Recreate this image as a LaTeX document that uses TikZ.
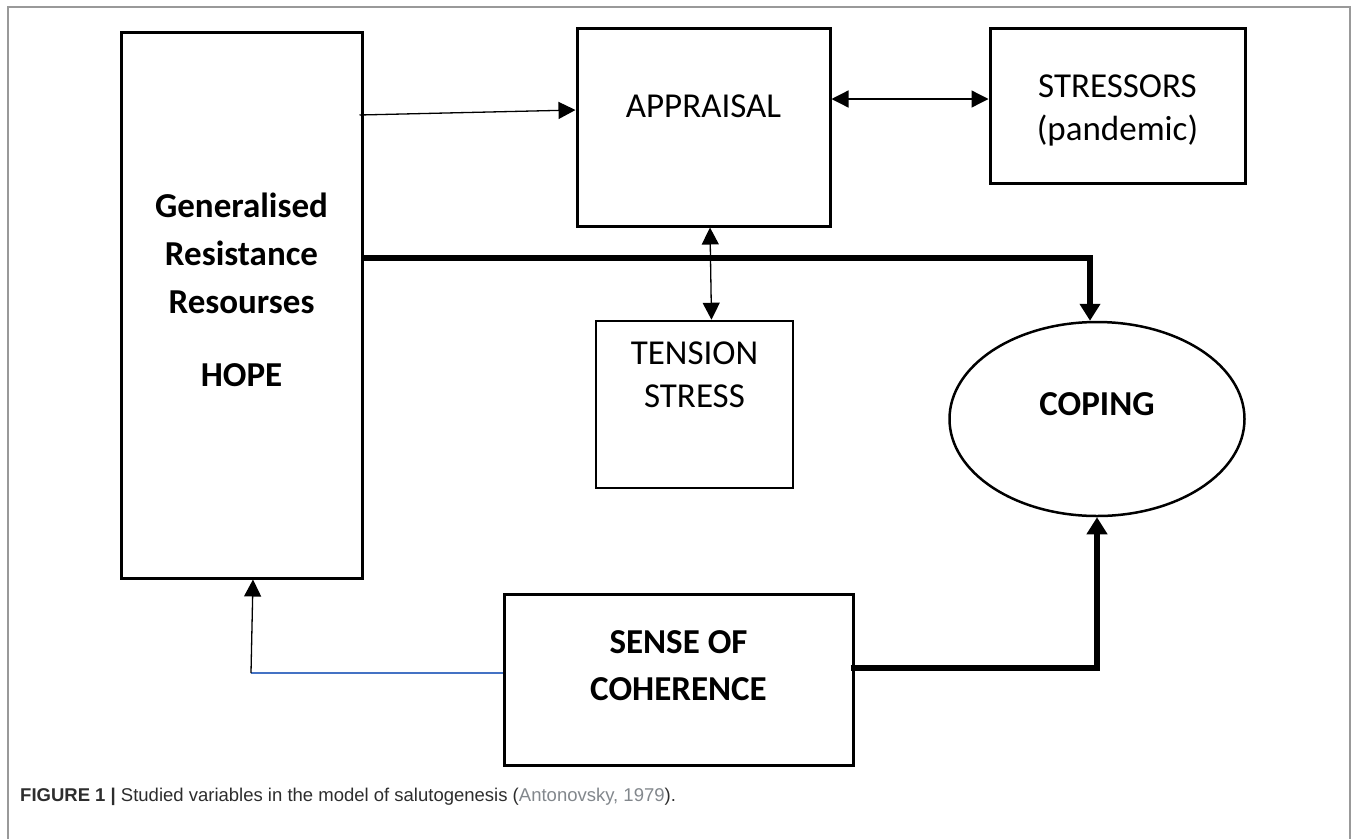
\documentclass[tikz,border=0pt]{standalone}
\usepackage{fontspec}
\setmainfont{Carlito}
\newfontfamily\capfont{Liberation Sans}
\usetikzlibrary{arrows.meta,shapes.geometric}
\definecolor{wordblue}{RGB}{68,114,196}
\definecolor{capgray}{RGB}{45,45,45}
\definecolor{citegray}{RGB}{130,135,140}
\begin{document}
\begin{tikzpicture}[x=1pt,y=-1pt,
		tri/.tip={Triangle[length=17pt,width=17pt]},
		bigtri/.tip={Triangle[length=17pt,width=20pt]},
		box/.style={draw,rectangle,line width=3pt,inner sep=0pt,align=center,font=\fontsize{35}{43}\selectfont},
		boldbox/.style={box,font=\fontsize{35}{48}\selectfont\bfseries},
		thinarrow/.style={line width=1.3pt,-tri},
		thinboth/.style={line width=1.3pt,tri-tri},
		thickarrow/.style={line width=6pt,-bigtri}
	]
		\useasboundingbox (0,0) rectangle (1358,839);
		\draw [line width=1.5pt,gray!80] (8,839)--(8,7)--(1350,7)--(1350,839);
		\node [boldbox,minimum width=241pt,minimum height=546pt,text height=162pt,text depth=0pt] (grr) at (241.5,305)
			{Generalised\\Resistance\\Resourses\\[25pt]HOPE};
		\node [box,minimum width=253pt,minimum height=198pt,text height=22.5pt,text depth=42.5pt] (appr) at (703.5,127) {APPRAISAL};
		\node [box,minimum width=255pt,minimum height=155pt,text height=69pt,text depth=0pt] (stress) at (1117.5,105.5) {STRESSORS\\(pandemic)};
		\node [box,line width=2.5pt,minimum width=197pt,minimum height=167pt,text height=5pt,text depth=0pt] (tension) at (694.5,404.5) {TENSION\\STRESS};
		\node [box,ellipse,line width=2.5pt,minimum width=295pt,minimum height=194pt,font=\fontsize{35}{43}\selectfont\bfseries,text height=22.5pt,text depth=30.5pt] (coping) at (1097,419) {COPING};
		\node [boldbox,font=\fontsize{35}{47}\selectfont\bfseries,minimum width=349pt,minimum height=171pt,text height=41pt,text depth=0pt] (soc) at (678.5,679.5) {SENSE OF\\COHERENCE};
		\coordinate (bend) at (251,673);
		\draw [thinarrow] ([xshift=-4pt,yshift=190pt]grr.east)--([yshift=17pt]appr.west);
		\draw [thinboth] ([yshift=28pt]appr.east)--([yshift=6.5pt]stress.west);
		\draw [thinboth] ([xshift=6.5pt]appr.south)--([xshift=17pt]tension.north);
		\draw [thickarrow] ([yshift=47pt]grr.east)-|([xshift=-7pt]coping.north);
		\draw [thickarrow] ([xshift=-4pt,yshift=11.5pt]soc.east)-|(coping.south);
		\draw [line width=1.3pt,wordblue] ([yshift=6.5pt]soc.west)--(bend);
		\draw [thinarrow] (bend)--([xshift=11.5pt]grr.south);
		\node [anchor=base west,inner sep=0pt,text=capgray,font=\capfont\fontsize{18.5}{20}\selectfont] (caption) at (20,801)
			{\textbf{FIGURE 1 \textbar} Studied variables in the model of salutogenesis ({\color{citegray}Antonovsky, 1979}).};
		\end{tikzpicture}
\end{document}
